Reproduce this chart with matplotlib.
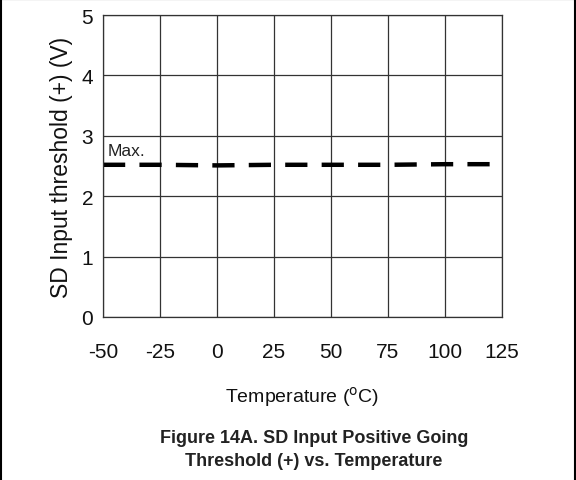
import matplotlib
matplotlib.use("Agg")
import matplotlib.pyplot as plt

# data
temps = [-50, -25, 0, 25, 50, 75, 100, 125]
vth_max = [2.52, 2.52, 2.51, 2.52, 2.52, 2.52, 2.53, 2.53]
xticks = [-50, -25, 0, 25, 50, 75, 100, 125]
yticks = [0, 1, 2, 3, 4, 5]

plt.rcParams["font.family"] = ["Liberation Sans", "DejaVu Sans"]
plt.rcParams["axes.unicode_minus"] = False

fig = plt.figure(figsize=(5.76, 4.81), dpi=100)
ax = fig.add_axes([0.1788, 0.3389, 0.6927, 0.6278])

ax.plot(temps, vth_max, color="black", lw=3.2, dashes=(5.0, 3.2))
ax.text(-48, 2.64, "Max.", fontsize=12.5, va="bottom", ha="left", color="#222222")

ax.set_xlim(-50, 125)
ax.set_ylim(0, 5)
ax.set_xticks(xticks)
ax.set_yticks(yticks)
ax.grid(True, color="#333333", lw=0.9)
for s in ax.spines.values():
    s.set_color("#333333")
    s.set_linewidth(0.9)
ax.tick_params(length=0, labelsize=15, labelcolor="#111111")
ax.tick_params(axis="x", pad=18)
ax.tick_params(axis="y", pad=7)

ax.set_ylabel("SD Input threshold (+) (V)", fontsize=16.5, labelpad=6, color="#111111")
fig.text(0.524, 0.1746, r"Temperature ($^\mathrm{o}$C)", fontsize=14,
         ha="center", va="center", color="#111111")
fig.text(0.545, 0.0644, "Figure 14A. SD Input Positive Going\nThreshold (+) vs. Temperature",
         fontsize=13, fontweight="bold", ha="center", va="center",
         color="#222222", linespacing=1.45)

# frame around the figure (left, top, right sides)
fig.add_artist(plt.Line2D([0.001, 0.001, 0.999, 0.999], [0, 0.999, 0.999, 0],
                          transform=fig.transFigure, color="black", lw=1.5))

fig.savefig("out.png", dpi=100)
